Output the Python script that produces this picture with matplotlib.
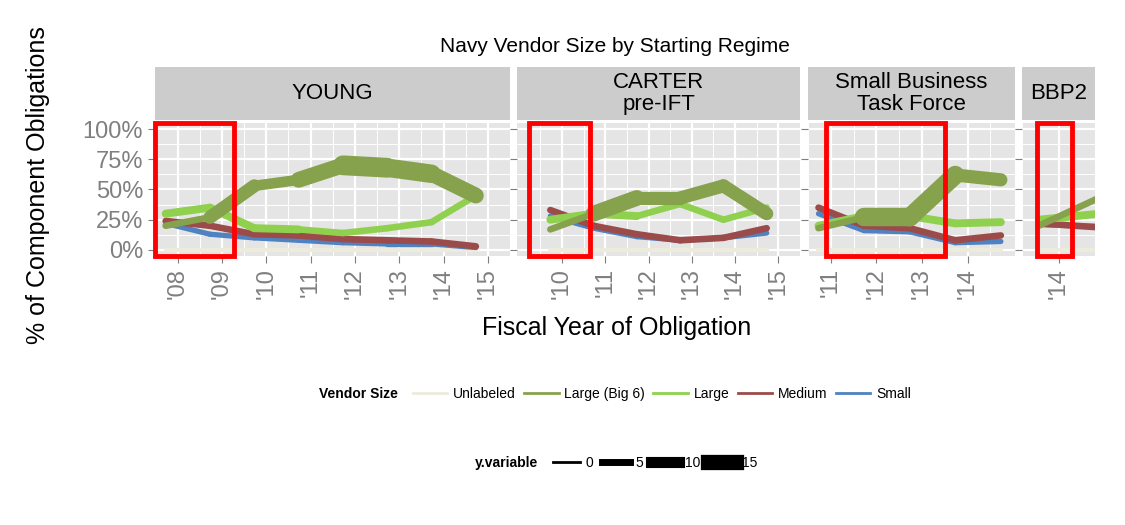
import matplotlib.pyplot as plt
from matplotlib.lines import Line2D
from matplotlib.patches import Rectangle

plt.rcParams['font.family'] = ['Liberation Sans', 'DejaVu Sans']

regimes = ["YOUNG", "CARTER\npre-IFT", "Small Business\nTask Force", "BBP2"]
xlims = [(2007.49, 2014.93), (2008.96, 2014.86), (2010.70, 2015.04), (2013.68, 2014.20)]
tick_years = [[2008, 2009, 2010, 2011, 2012, 2013, 2014, 2015],
              [2010, 2011, 2012, 2013, 2014, 2015],
              [2011, 2012, 2013, 2014],
              [2014]]
years = [[2007.73, 2008.73, 2009.73, 2010.73, 2011.73, 2012.73, 2013.73, 2014.73],
         [2009.73, 2010.73, 2011.73, 2012.73, 2013.73, 2014.73],
         [2010.73, 2011.73, 2012.73, 2013.73, 2014.73],
         [2013.73, 2014.73]]
big6 = [[20, 27, 53, 58, 70, 68, 63, 45], [17, 30, 43, 43, 53, 30],
        [18, 27, 27, 62, 58], [20, 48]]
big6_size = [[5, 10, 8, 12, 15, 14, 12, 8], [5, 12, 10, 10, 10, 6],
             [5, 14, 14, 10, 14], [5, 5]]
large = [[30, 35, 18, 17, 14, 18, 23, 45], [25, 30, 28, 38, 25, 35],
         [20, 28, 28, 22, 23], [25, 31]]
large_size = [[6, 6, 6, 5, 5, 5, 5, 5], [6, 6, 5, 5, 5, 5],
              [6, 6, 6, 6, 6], [6, 6]]
medium = [[24, 20, 13, 12, 9, 8, 7, 3], [33, 20, 13, 8, 10, 18],
          [35, 20, 18, 8, 12], [22, 18]]
small = [[22, 13, 10, 8, 6, 5, 5, 2], [28, 18, 11, 8, 10, 14],
         [30, 16, 15, 6, 7], [21, 19]]
red_boxes = [(2007.49, 2009.27), (2009.23, 2010.65), (2010.90, 2013.50), (2013.70, 2014.19)]

c_unl, c_big6, c_large, c_med, c_small = "#ECEBDC", "#86A24C", "#8FD14F", "#9C4B4B", "#4F82C0"

fig = plt.figure(figsize=(11.25, 5.25), dpi=100)
W, H = 1125, 525
px = [(155, 510), (517, 800), (808, 1015), (1022, 1095)]
ptop, pbot, stop = 123, 256, 67

def seg_line(ax, x, y, sizes, color):
    for i in range(len(x) - 1):
        ax.plot(x[i:i + 2], y[i:i + 2], color=color, lw=sizes[i] * 0.95,
                solid_capstyle="round", zorder=3)

for k in range(4):
    l, r = px[k]
    ax = fig.add_axes([l / W, 1 - pbot / H, (r - l) / W, (pbot - ptop) / H])
    ax.set_facecolor("#E5E5E5")
    for s in ax.spines.values():
        s.set_visible(False)
    x = years[k]
    ax.plot(x, [0] * len(x), color=c_unl, lw=3, zorder=2)
    seg_line(ax, x, small[k], [4] * len(x), c_small)
    seg_line(ax, x, medium[k], [5] * len(x), c_med)
    seg_line(ax, x, large[k], large_size[k], c_large)
    seg_line(ax, x, big6[k], big6_size[k], c_big6)
    ax.set_xlim(*xlims[k])
    ax.set_ylim(-5, 105)
    ax.set_xticks(tick_years[k])
    ax.set_xticks([t + 0.5 for t in range(tick_years[k][0] - 1, tick_years[k][-1] + 1)], minor=True)
    ax.set_xticklabels(["'%02d" % (t % 100) for t in tick_years[k]], rotation=90,
                       fontsize=17, color="#7F7F7F")
    ax.set_yticks([0, 25, 50, 75, 100])
    ax.set_yticks([12.5, 37.5, 62.5, 87.5], minor=True)
    if k == 0:
        ax.set_yticklabels(["0%", "25%", "50%", "75%", "100%"], fontsize=17, color="#7F7F7F")
    else:
        ax.set_yticklabels([])
    ax.grid(True, which="major", color="white", lw=1.6)
    ax.grid(True, which="minor", color="white", lw=0.7)
    ax.set_axisbelow(True)
    ax.tick_params(which="both", color="#7F7F7F", length=5)
    ax.tick_params(which="minor", length=0)
    x0, x1 = red_boxes[k]
    ax.add_patch(Rectangle((x0, -5), x1 - x0, 110, fill=False, ec="red", lw=3.5,
                           zorder=5, clip_on=False))
    sax = fig.add_axes([l / W, 1 - (ptop - 3) / H, (r - l) / W, (ptop - 3 - stop) / H])
    sax.set_facecolor("#CCCCCC")
    sax.set_xticks([]); sax.set_yticks([])
    for s in sax.spines.values():
        s.set_visible(False)
    sax.text(0.5, 0.5, regimes[k], ha="center", va="center", fontsize=16,
             transform=sax.transAxes, linespacing=1.1)

fig.text(615 / W, 1 - 47 / H, "Navy Vendor Size by Starting Regime", ha="center",
         va="center", fontsize=15)
fig.text(38 / W, 1 - 185 / H, "% of Component Obligations", rotation=90, ha="center",
         va="center", fontsize=18)
fig.text(617 / W, 1 - 328 / H, "Fiscal Year of Obligation", ha="center", va="center",
         fontsize=18)

fig.text(398 / W, 1 - 394 / H, "Vendor Size", ha="right", va="center", fontsize=10,
         fontweight="bold")
h1 = [Line2D([], [], color=c, lw=2) for c in [c_unl, c_big6, c_large, c_med, c_small]]
fig.legend(h1, ["Unlabeled", "Large (Big 6)", "Large", "Medium", "Small"], ncol=5,
           loc="center left", bbox_to_anchor=(400 / W, 1 - 394 / H), frameon=False,
           fontsize=10, handlelength=2.5, columnspacing=0.6, handletextpad=0.4)
fig.text(538 / W, 1 - 463 / H, "y.variable", ha="right", va="center", fontsize=10,
         fontweight="bold")
h2 = [Line2D([], [], color="black", lw=w) for w in [2, 5, 8, 11]]
fig.legend(h2, ["0", "5", "10", "15"], ncol=4, loc="center left",
           bbox_to_anchor=(540 / W, 1 - 463 / H), frameon=False, fontsize=10,
           handlelength=2.0, columnspacing=0.6, handletextpad=0.4)

fig.savefig("out.png", dpi=100)
